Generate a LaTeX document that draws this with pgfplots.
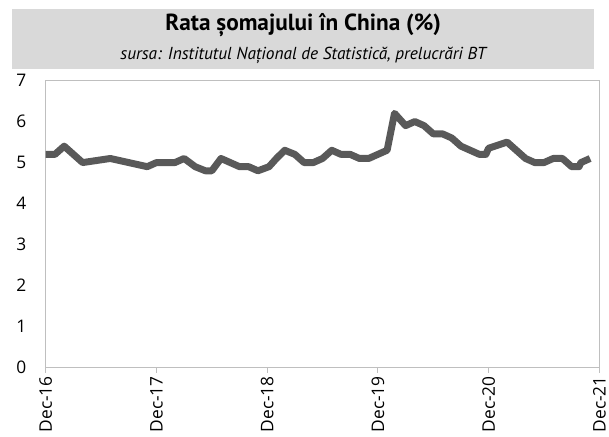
\documentclass[border=0pt]{standalone}
\usepackage{pgfplots}
\pgfplotsset{compat=1.18}
\usepackage{fontspec}
\setmainfont{Open Sans}
\newfontfamily\ptsans{PT Sans}
\definecolor{boxgrey}{HTML}{D9D9D9}
\definecolor{linegrey}{HTML}{595959}
\definecolor{axisgrey}{HTML}{BFBFBF}
\begin{document}
\begin{tikzpicture}
\path (0,0) rectangle (609bp,439bp);
\fill[boxgrey] (12bp,370bp) rectangle (598bp,430bp);
\node[anchor=base, inner sep=0pt, font=\ptsans\bfseries\fontsize{23.5}{26}\selectfont] at (305bp,408.5bp) {Rata șomajului în China (\%)};
\node[anchor=base, inner sep=0pt, font=\ptsans\itshape\fontsize{17.5}{20}\selectfont] at (305bp,379.5bp) {sursa: Institutul Național de Statistică, prelucrări BT};
\begin{axis}[
  at={(46bp,69bp)}, anchor=south west,
  scale only axis,
  width=557bp, height=289bp,
  xmin=0, xmax=60, ymin=0, ymax=7,
  xtick={0,12,24,36,48,60},
  xticklabels={Dec-16,Dec-17,Dec-18,Dec-19,Dec-20,Dec-21},
  ytick={0,1,...,7},
  axis line style={axisgrey, line width=1.2bp},
  xtick pos=bottom, ytick pos=left,
  tick align=outside,
  xtick style={axisgrey, line width=1.2bp},
  major tick length=5bp,
  ytick style={draw=none},
  /pgf/number format/assume math mode=true,
  tick label style={font=\fontsize{17.5}{20}\selectfont, text=black},
  xticklabel style={rotate=90, anchor=east},
  yticklabel style={xshift=-11bp},
  clip=false,
]
\addplot[linegrey, line width=7bp, line join=round, line cap=butt] coordinates {
(0,5.2) (1,5.2) (2,5.4) (4,5.0) (7,5.1) (11,4.9) (12,5.0) (14,5.0) (15,5.1)
(16.2,4.9) (17.3,4.8) (18,4.8) (19,5.1) (20,5.0) (21,4.9) (22,4.9) (23,4.8) (24.2,4.9)
(25,5.1) (25.9,5.3) (27,5.2) (28,5.0) (29,5.0) (30,5.1) (31,5.3) (32,5.2) (33,5.2)
(34,5.1) (35,5.1) (36,5.2) (37,5.3) (37.8,6.2) (39,5.9) (40,6.0) (41,5.9) (42,5.7)
(43,5.7) (44,5.6) (45,5.4) (46,5.3) (47,5.2) (47.7,5.2) (48,5.35) (50,5.5) (51,5.3)
(52,5.1) (53,5.0) (54,5.0) (55,5.1) (56,5.1) (57,4.9) (57.8,4.9) (58,5.0) (59,5.1)
};
\end{axis}
\end{tikzpicture}
\end{document}
